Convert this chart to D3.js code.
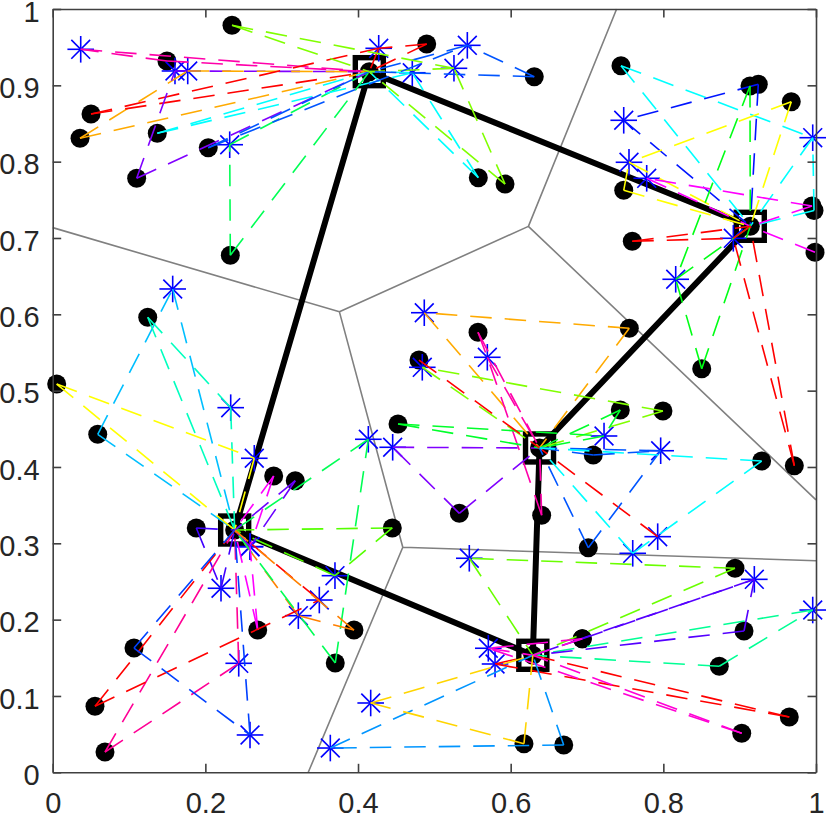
<!DOCTYPE html>
<html>
<head>
<meta charset="utf-8">
<script src="https://cdn.jsdelivr.net/npm/d3@7"></script>
<style>
html, body { margin: 0; padding: 0; background: white; }
svg { display: block; }
text { font-family: "Liberation Sans", Arial, sans-serif; }
</style>
</head>
<body>
<div id="chart"></div>
<script>
let x_ticks = [0, 0.2, 0.4, 0.6, 0.8, 1]
let y_ticks = [0, 0.1, 0.2, 0.3, 0.4, 0.5, 0.6, 0.7, 0.8, 0.9, 1]

// centroids, in the order the closed tour goes through them
let centers = [
  [.4148, .9179], [.9139, .7153], [.6378, .4249], [.6290, .1533], [.2384, .3174]
]

// stars : [x, y, hue]
// dots : [x, y, hue, index of the linked star or -1]
let stars_a = [
  [.0367, .9472, 320], [.1602, .9188, 270], [.1769, .9188, 40], [.2319, .8222, 140],
  [.4271, .9485, 0], [.4711, .9165, 180], [.5257, .9223, 90], [.5432, .9524, 220]
]
let dots_a = [
  [.1497, .9319, 320, 0], [.0358, .8306, 40, 2], [.0502, .8624, 0, 4], [.4900, .9541, 0, 4],
  [.1370, .8371, 180, 5], [.5576, .7790, 180, 5], [.1100, .7782, 270, 1], [.2038, .8183, 220, 7],
  [.6309, .9113, 220, 7], [.2327, .6773, 140, 3], [.2349, .9786, 90, 6], [.5926, .7707, 90, 6],
  [.4148, .9179, 0, -1]
]

let stars_b = [
  [.7481, .8542, 235], [.7550, .7992, 60], [.7782, .7782, 300],
  [.9957, .8314, 180], [.8162, .6459, 125], [.8917, .6996, 0]
]
let dots_b = [
  [.7445, .9257, 180, 3], [.9974, .7360, 180, 3], [.9244, .9013, 235, 0], [.9135, .8991, 125, 4],
  [.8503, .5288, 125, 4], [.9676, .8785, 60, 1], [.7481, .7625, 60, 1], [.9948, .7419, 300, 2],
  [.9987, .6813, 300, -1], [.7593, .6957, 0, 5], [.9716, .4017, 0, 5], [.9139, .7153, 0, -1]
]

let stars_c = [
  [.4868, .6021, 40], [.5694, .5437, 320], [.4842, .5306, 90], [.7223, .4406, 130],
  [.7965, .4213, 220], [.7926, .3087, 0], [.7599, .2869, 180], [.4454, .4258, 270]
]
let dots_c = [
  [.7554, .5817, 40, 0], [.5572, .5764, 320, 1], [.6406, .3367, 320, 1], [.7995, .4733, 90, 2],
  [.4524, .4563, 130, 3], [.7436, .4746, 130, 3], [.7082, .4157, 220, 4], [.7017, .2942, 220, 4],
  [.4799, .5401, 0, -1], [.9288, .4078, 180, 6], [.5327, .3393, 270, 7], [.6378, .4249, 0, -1]
]

let stars_d = [
  [.1572, .6332, 195], [.2332, .4777, 165], [.2641, .4114, 60], [.4135, .4363, 140],
  [.3698, .2576, 100], [.2585, .2956, 300], [.2585, .2956, 265], [.2205, .2411, 255],
  [.2437, .1428, 325], [.3493, .2257, 0], [.3218, .2052, 30], [.2585, .0489, 225]
]
let dots_d = [
  [.0590, .4428, 195, 0], [.1245, .5961, 165, 1], [.0052, .5087, 60, 2], [.3702, .1432, 140, 3],
  [.4449, .3201, 100, 4], [.2895, .3882, 300, 5], [.2686, .1864, 300, 5], [.3178, .3820, 265, 6],
  [.1881, .3201, 255, 7], [.0685, .0266, 325, 8], [.0554, .0865, 0, 9], [.3947, .1864, 30, 10],
  [.1065, .1628, 225, 11], [.2384, .3174, 0, -1]
]

let stars_e = [
  [.5458, .2804, 95], [.9192, .2528, 260], [.9957, .2126, 155], [.5795, .1419, 0],
  [.5707, .1625, 310], [.4166, .0908, 50], [.3637, .0318, 205]
]
let dots_e = [
  [.8939, .2673, 95, 0], [.6938, .1750, 260, 1], [.9057, .1851, 260, 1], [.8733, .1389, 155, 2],
  [.9650, .0724, 0, 3], [.9027, .0511, 310, 4], [.6938, .1750, 310, 4], [.6174, .0375, 50, 5],
  [.6695, .0358, 205, 6], [.6290, .1533, 0, -1]
]

let clusters = [
  {center: centers[0], stars: stars_a, dots: dots_a},
  {center: centers[1], stars: stars_b, dots: dots_b},
  {center: centers[2], stars: stars_c, dots: dots_c},
  {center: centers[4], stars: stars_d, dots: dots_d},
  {center: centers[3], stars: stars_e, dots: dots_e}
]

let width = 830, height = 819
let left = 52.7, right = 816, top_ = 9, bottom = 772.3

let x = d3.scaleLinear().domain([0, 1]).range([left, right])
let y = d3.scaleLinear().domain([0, 1]).range([bottom, top_])

let svg = d3.select('#chart').append('svg')
.attr('width', width)
.attr('height', height)

// voronoi edges between the centroids
let voronoi = d3.Delaunay.from(centers, d => x(d[0]), d => y(d[1])).voronoi([left, top_, right, bottom])

svg.append('path')
.attr('d', voronoi.render())
.attr('fill', 'none')
.attr('stroke', '#808080')
.attr('stroke-width', 1.6)

let all_dots = clusters.map(c => c.dots).flat()
let all_stars = clusters.map(c => c.stars).flat()

svg.append('g').selectAll('circle')
.data(all_dots)
.join('circle')
.attr('cx', d => x(d[0]))
.attr('cy', d => y(d[1]))
.attr('r', 9.5)
.attr('fill', 'black')

// tour
let tour = d3.line().x(d => x(d[0])).y(d => y(d[1])).curve(d3.curveLinearClosed)

svg.append('path')
.attr('d', tour(centers))
.attr('fill', 'none')
.attr('stroke', 'black')
.attr('stroke-width', 6)

svg.append('g').selectAll('rect')
.data(centers)
.join('rect')
.attr('x', d => x(d[0]) - 14)
.attr('y', d => y(d[1]) - 14)
.attr('width', 28)
.attr('height', 28)
.attr('fill', 'none')
.attr('stroke', 'black')
.attr('stroke-width', 5.4)

// star markers, arms are shorter on the diagonals like the matlab marker
let arms = [[13.3, 0], [0, 13.3], [9.4, 9.4], [9.4, -9.4]]

let star_g = svg.append('g').selectAll('g')
.data(all_stars)
.join('g')
.attr('transform', d => `translate(${x(d[0])},${y(d[1])})`)

star_g.selectAll('line')
.data(arms)
.join('line')
.attr('x1', d => -d[0])
.attr('y1', d => -d[1])
.attr('x2', d => d[0])
.attr('y2', d => d[1])
.attr('stroke', '#0000ff')
.attr('stroke-width', 1.6)

// dashed links : star - centroid, dot - centroid, dot - star
let links = []

clusters.forEach((c) => {
  c.stars.forEach((s) => {
    links.push({from: s, to: c.center, hue: s[2]})
  })
  c.dots.forEach((p) => {
    links.push({from: p, to: c.center, hue: p[2]})
    if (p[3] >= 0) {
      links.push({from: p, to: c.stars[p[3]], hue: p[2]})
    }
  })
})

svg.append('g').selectAll('line')
.data(links)
.join('line')
.attr('x1', d => x(d.from[0]))
.attr('y1', d => y(d.from[1]))
.attr('x2', d => x(d.to[0]))
.attr('y2', d => y(d.to[1]))
.attr('stroke', d => d3.hsl(d.hue, 1, .5).formatHex())
.attr('stroke-width', 1.6)
.attr('stroke-dasharray', '21.5 13')

// axes, ticks point inside and are mirrored on the top and right
function style_axis(g) {
  g.select('.domain').attr('stroke', '#404040').attr('stroke-width', 1.6)
  g.selectAll('.tick line').attr('stroke', '#404040').attr('stroke-width', 1.6)
  g.selectAll('.tick text')
  .attr('fill', '#262626')
  .style('font-family', '"Liberation Sans", Arial, sans-serif')
  .style('font-size', '29px')
}

svg.append('g')
.attr('transform', `translate(0,${bottom})`)
.call(d3.axisBottom(x).tickValues(x_ticks).tickFormat(d => String(d)).tickSizeInner(-8.5).tickSizeOuter(0).tickPadding(20.5))
.call(style_axis)

svg.append('g')
.attr('transform', `translate(${left},0)`)
.call(d3.axisLeft(y).tickValues(y_ticks).tickFormat(d => String(d)).tickSizeInner(-8.5).tickSizeOuter(0).tickPadding(13))
.call(style_axis)
.selectAll('.tick text')
.attr('dy', '.42em')

svg.append('g')
.attr('transform', `translate(0,${top_})`)
.call(d3.axisTop(x).tickValues(x_ticks).tickFormat('').tickSizeInner(-8.5).tickSizeOuter(0))
.call(style_axis)

svg.append('g')
.attr('transform', `translate(${right},0)`)
.call(d3.axisRight(y).tickValues(y_ticks).tickFormat('').tickSizeInner(-8.5).tickSizeOuter(0))
.call(style_axis)
</script>
</body>
</html>
